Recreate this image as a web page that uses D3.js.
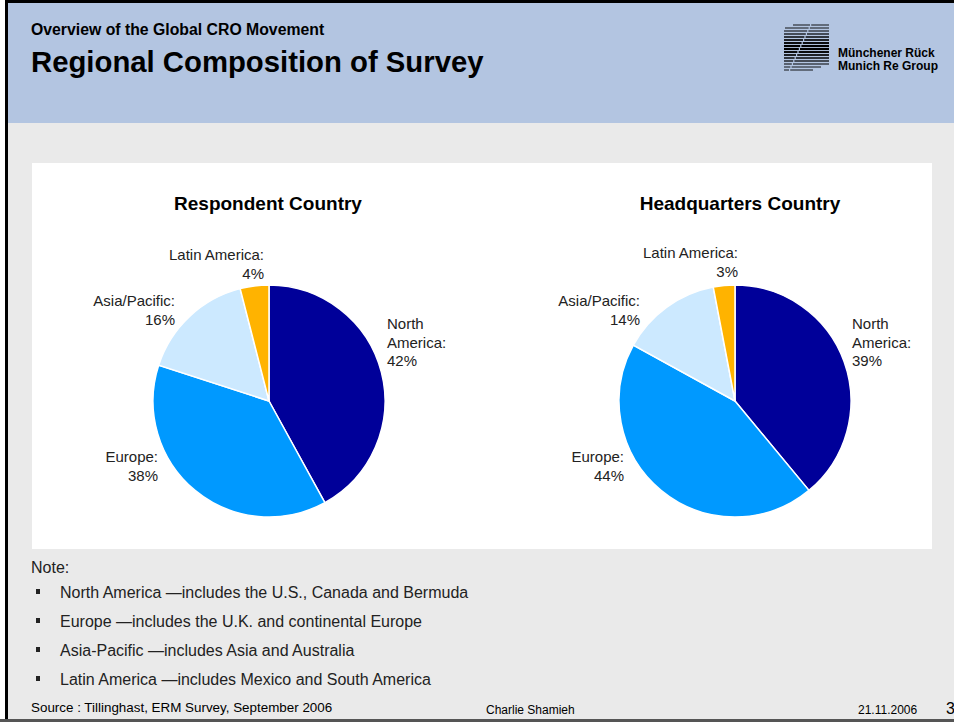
<!DOCTYPE html>
<html><head><meta charset="utf-8">
<script src="https://cdn.jsdelivr.net/npm/d3@7"></script>
<style>
body{margin:0;padding:0;background:#fff;}
svg{display:block;font-family:"Liberation Sans",Arial,sans-serif;}
</style></head>
<body>
<script>
const categories = ["North America", "Europe", "Asia/Pacific", "Latin America"];
const respondentValues = [42, 38, 16, 4];
const headquartersValues = [39, 44, 14, 3];
const chartTitles = ["Respondent Country", "Headquarters Country"];
const sliceColors = ["#000099", "#0099ff", "#cce9ff", "#ffb300"];
const notes = [
  "North America \u2014includes the U.S., Canada and Bermuda",
  "Europe \u2014includes the U.K. and continental Europe",
  "Asia-Pacific \u2014includes Asia and Australia",
  "Latin America \u2014includes Mexico and South America"
];

const W = 954, H = 722;
const svg = d3.select("body").append("svg").attr("width", W).attr("height", H);

// background
svg.append("rect").attr("x",0).attr("y",0).attr("width",W).attr("height",H).attr("fill","#eaeaea");
svg.append("rect").attr("x",0).attr("y",0).attr("width",W).attr("height",123).attr("fill","#b3c5e1");
svg.append("rect").attr("x",0).attr("y",0).attr("width",W).attr("height",3).attr("fill","#000");
svg.append("rect").attr("x",5).attr("y",0).attr("width",3).attr("height",H).attr("fill","#000");
svg.append("rect").attr("x",0).attr("y",0).attr("width",5).attr("height",H).attr("fill","#fff");
svg.append("rect").attr("x",0).attr("y",719).attr("width",W).attr("height",3).attr("fill","#555");

// header text
svg.append("text").attr("x",31).attr("y",35).attr("font-size",15.8).attr("font-weight","bold").attr("fill","#000")
  .text("Overview of the Global CRO Movement");
svg.append("text").attr("x",31).attr("y",72).attr("font-size",29.3).attr("font-weight","bold").attr("fill","#000")
  .text("Regional Composition of Survey");

// logo (decoration)
const logo = svg.append("g");
d3.range(16).forEach(i => {
  const y = 25 + i * 3;
  const th = 0.9 + 1.3 * Math.max(0, 1 - Math.abs(i - 7.5) / 6);
  const x0 = i < 2 ? 785 + (1 - i) * 8 : 784;
  const x1 = i > 13 ? 829 - (i - 13) * 8 : 829;
  const gap = 810 - i * 1.4;
  logo.append("rect").attr("x", x0).attr("y", y - th/2).attr("width", Math.max(0, gap - x0)).attr("height", th).attr("fill", "#000");
  logo.append("rect").attr("x", gap + 1.2).attr("y", y - th/2).attr("width", Math.max(0, x1 - gap - 1.2)).attr("height", th).attr("fill", "#000");
});
svg.append("text").attr("x",838).attr("y",57).attr("font-size",12).attr("font-weight","bold").text("Münchener Rück");
svg.append("text").attr("x",838).attr("y",70).attr("font-size",12).attr("font-weight","bold").text("Munich Re Group");

// white panel
svg.append("rect").attr("x",32).attr("y",163).attr("width",900).attr("height",386).attr("fill","#fff");

const pie = d3.pie().sort(null).value(d=>d);
const arc = d3.arc().innerRadius(0).outerRadius(116);
const color = d3.scaleOrdinal().domain(categories).range(sliceColors);

const charts = [
  {values: respondentValues, cx: 269, cy: 401, titleX: 268,
   labels: [
     {lines:["North","America:"], anchor:"start", x:387, y:329},
     {lines:["Europe:"], anchor:"end", x:158, y:462},
     {lines:["Asia/Pacific:"], anchor:"end", x:175, y:306},
     {lines:["Latin America:"], anchor:"end", x:264, y:260}
   ]},
  {values: headquartersValues, cx: 735, cy: 401, titleX: 740,
   labels: [
     {lines:["North","America:"], anchor:"start", x:852, y:329},
     {lines:["Europe:"], anchor:"end", x:624, y:462},
     {lines:["Asia/Pacific:"], anchor:"end", x:640, y:306},
     {lines:["Latin America:"], anchor:"end", x:738, y:258}
   ]}
];

charts.forEach((c, ci) => {
  svg.append("text").attr("x", c.titleX).attr("y", 210).attr("text-anchor","middle")
    .attr("font-size",19).attr("font-weight","bold").attr("fill","#000").text(chartTitles[ci]);
  const g = svg.append("g").attr("transform",`translate(${c.cx},${c.cy})`);
  g.selectAll("path").data(pie(c.values)).join("path")
    .attr("d", arc).attr("fill",(d,i)=>color(categories[i]))
    .attr("stroke","#fff").attr("stroke-width",1.5);
  c.labels.forEach((lb, i) => {
    const t = svg.append("text").attr("text-anchor", lb.anchor).attr("font-size",15).attr("fill","#222");
    const lines = lb.lines.concat([c.values[i] + "%"]);
    lines.forEach((ln, k) => {
      t.append("tspan").attr("x", lb.x).attr("y", lb.y + k*18.5).text(ln);
    });
  });
});

// notes
svg.append("text").attr("x",31).attr("y",573).attr("font-size",16).attr("fill","#222").text("Note:");
notes.forEach((n,i)=>{
  const y = 598 + i*29;
  svg.append("rect").attr("x",36).attr("y",y-9).attr("width",4).attr("height",5).attr("fill","#222");
  svg.append("text").attr("x",60).attr("y",y).attr("font-size",16).attr("fill","#222").text(n);
});

// footer
svg.append("text").attr("x",31).attr("y",712).attr("font-size",13.4).attr("fill","#000").text("Source : Tillinghast, ERM Survey, September 2006");
svg.append("text").attr("x",486).attr("y",714).attr("font-size",12).attr("fill","#000").text("Charlie Shamieh");
svg.append("text").attr("x",858).attr("y",714).attr("font-size",12).attr("fill","#000").text("21.11.2006");
svg.append("text").attr("x",946).attr("y",714).attr("font-size",16).attr("fill","#000").text("3");
</script>
</body></html>
